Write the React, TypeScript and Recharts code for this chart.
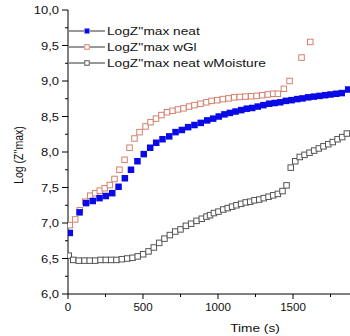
import React from 'react';
import { ScatterChart, Scatter, XAxis, YAxis, Legend } from 'recharts';

const FONT = '"Liberation Sans", Arial, Helvetica, sans-serif';
const SX = 1.18;

// Series: LogZ''max neat
const neatTime = [12, 77, 121, 165, 210, 252, 295, 337, 379, 420, 463, 505, 548, 588, 630, 675, 717, 759, 801, 843, 885, 928, 968, 1005, 1043, 1079, 1117, 1155, 1192, 1228, 1265, 1303, 1341, 1377, 1415, 1452, 1490, 1528, 1563, 1601, 1639, 1677, 1715, 1750, 1788, 1825, 1868];
const neatLog = [6.86, 7.15, 7.28, 7.31, 7.35, 7.38, 7.42, 7.51, 7.63, 7.75, 7.87, 7.97, 8.06, 8.13, 8.18, 8.22, 8.28, 8.31, 8.35, 8.38, 8.41, 8.445, 8.47, 8.5, 8.53, 8.55, 8.57, 8.59, 8.61, 8.62, 8.64, 8.66, 8.68, 8.69, 8.7, 8.72, 8.73, 8.745, 8.755, 8.77, 8.78, 8.79, 8.8, 8.81, 8.82, 8.83, 8.88];

// Series: LogZ''max wGl
const wglTime = [12, 48, 79, 115, 148, 181, 212, 245, 279, 310, 343, 377, 410, 443, 477, 517, 550, 587, 623, 660, 697, 733, 770, 807, 843, 883, 923, 957, 995, 1032, 1070, 1108, 1145, 1183, 1221, 1257, 1295, 1332, 1368, 1399, 1439, 1477, 1557, 1615];
const wglLog = [6.97, 7.05, 7.18, 7.3, 7.385, 7.42, 7.455, 7.49, 7.535, 7.62, 7.75, 7.89, 8.06, 8.19, 8.28, 8.36, 8.42, 8.47, 8.52, 8.56, 8.58, 8.6, 8.615, 8.64, 8.66, 8.68, 8.7, 8.72, 8.73, 8.745, 8.755, 8.77, 8.775, 8.78, 8.785, 8.79, 8.8, 8.81, 8.82, 8.82, 8.89, 9.0, 9.33, 9.55];

// Series: LogZ''max neat wMoisture
const moistTime = [5, 35, 72, 110, 145, 181, 217, 252, 288, 323, 359, 395, 430, 465, 501, 537, 572, 608, 643, 679, 715, 750, 786, 821, 857, 892, 923, 947, 973, 1003, 1035, 1065, 1094, 1123, 1154, 1185, 1215, 1243, 1275, 1305, 1337, 1368, 1399, 1430, 1457, 1485, 1515, 1545, 1577, 1610, 1641, 1672, 1703, 1735, 1765, 1797, 1828, 1859];
const moistLog = [6.54, 6.48, 6.47, 6.47, 6.47, 6.47, 6.48, 6.48, 6.48, 6.48, 6.49, 6.5, 6.51, 6.53, 6.56, 6.6, 6.655, 6.72, 6.78, 6.83, 6.88, 6.91, 6.96, 6.99, 7.03, 7.06, 7.09, 7.11, 7.14, 7.16, 7.19, 7.21, 7.23, 7.25, 7.27, 7.29, 7.3, 7.32, 7.33, 7.35, 7.37, 7.39, 7.41, 7.45, 7.53, 7.78, 7.87, 7.93, 7.96, 7.99, 8.02, 8.05, 8.08, 8.11, 8.14, 8.18, 8.21, 8.26];

const seriesNames = ["LogZ''max neat", "LogZ''max wGl", "LogZ''max neat wMoisture"];
const xTicks = [0, 250, 500, 750, 1000, 1250, 1500, 1750];
const xMajor = [0, 500, 1000, 1500];
const yTicks = [6, 6.25, 6.5, 6.75, 7, 7.25, 7.5, 7.75, 8, 8.25, 8.5, 8.75, 9, 9.25, 9.5, 9.75, 10];
const yMajor = [6, 6.5, 7, 7.5, 8, 8.5, 9, 9.5, 10];

const BLUE = '#0a0ae6';
const SALMON = '#d4806c';
const GREY = '#555555';

const toPoints = (t: number[], v: number[]) => t.map((x, i) => ({ t: x, v: v[i] }));
const neatData = toPoints(neatTime, neatLog);
const wglData = toPoints(wglTime, wglLog);
const moistData = toPoints(moistTime, moistLog);

const makeSquare = (fill: string, stroke: string, size: number) => (props: any) => {
  const { cx, cy } = props;
  if (cx == null || cy == null) return <g />;
  return (
    <rect x={cx - size / 2} y={cy - size / 2} width={size} height={size} fill={fill}
      stroke={stroke} strokeWidth={stroke === 'none' ? 0 : 1} />
  );
};

const XTick = (props: any) => {
  const { x, y, payload } = props;
  const major = xMajor.includes(payload.value);
  return (
    <g>
      <line x1={x} x2={x} y1={y} y2={y + (major ? 5 : 3)} stroke="#000" strokeWidth={1} />
      {major && (
        <text transform={`translate(${x},${y + 17}) scale(1.05,1)`} textAnchor="middle"
          fontSize={11} fontFamily={FONT} fill="#111">{payload.value}</text>
      )}
    </g>
  );
};

const YTick = (props: any) => {
  const { x, y, payload } = props;
  const major = yMajor.includes(payload.value);
  return (
    <g>
      <line x1={x - (major ? 6 : 3)} x2={x} y1={y} y2={y} stroke="#000" strokeWidth={1} />
      {major && (
        <text transform={`translate(${x - 9},${y + 4}) scale(${SX},1)`} textAnchor="end"
          fontSize={11} fontFamily={FONT} fill="#111">{payload.value.toFixed(1).replace('.', ',')}</text>
      )}
    </g>
  );
};

const YTitle = (props: any) => {
  const { viewBox } = props;
  const cx = viewBox.x + 19;
  const cy = viewBox.y + viewBox.height / 2 + 3;
  return (
    <text transform={`translate(${cx},${cy}) scale(${SX},1) rotate(-90)`} textAnchor="middle"
      dy="0.35em" fontSize={10.5} fontFamily={FONT} fill="#111">{"Log (Z''max)"}</text>
  );
};

const XTitle = (props: any) => {
  const { viewBox } = props;
  const cx = viewBox.x + 187;
  const cy = viewBox.y + 38;
  return (
    <text transform={`translate(${cx},${cy}) scale(${SX},1)`} textAnchor="middle"
      fontSize={11.6} fontFamily={FONT} fill="#111">Time (s)</text>
  );
};

const legendMarkers = [
  { fill: BLUE, stroke: 'none', size: 5 },
  { fill: '#fff', stroke: SALMON, size: 4.5 },
  { fill: '#fff', stroke: GREY, size: 4.5 },
];

const renderLegend = () => (
  <div style={{ fontFamily: FONT, fontSize: 11.6, color: '#111', lineHeight: 1 }}>
    {seriesNames.map((name, i) => {
      const m = legendMarkers[i];
      return (
        <div key={name} style={{ height: 16.3, display: 'flex', alignItems: 'center', whiteSpace: 'nowrap' }}>
          <svg width={36} height={10} style={{ display: 'block' }}>
            <line x1={0} x2={15} y1={5} y2={5} stroke="#333" strokeWidth={1} />
            <line x1={21} x2={36} y1={5} y2={5} stroke="#333" strokeWidth={1} />
            <rect x={18 - m.size / 2} y={5 - m.size / 2} width={m.size} height={m.size}
              fill={m.fill} stroke={m.stroke} strokeWidth={m.stroke === 'none' ? 0 : 1} />
          </svg>
          <span style={{ display: 'inline-block', marginLeft: 2, transform: `scaleX(${SX})`, transformOrigin: 'left center' }}>{name}</span>
        </div>
      );
    })}
  </div>
);

export default function App() {
  return (
    <div style={{ position: 'absolute', left: 0, top: 0, width: 350, height: 336, background: '#fff' }}>
      <ScatterChart width={350} height={336} margin={{ top: 10, right: 0, bottom: 0, left: 0 }}>
        <XAxis type="number" dataKey="t" domain={[0, 1880]} ticks={xTicks} interval={0}
          height={42} tickSize={0} tickMargin={0} tickLine={false} tick={<XTick />}
          axisLine={{ stroke: '#000', strokeWidth: 1 }} allowDataOverflow label={<XTitle />} />
        <YAxis type="number" dataKey="v" domain={[6, 10]} ticks={yTicks} interval={0}
          width={68} tickSize={0} tickMargin={0} tickLine={false} tick={<YTick />}
          axisLine={{ stroke: '#000', strokeWidth: 1 }} allowDataOverflow label={<YTitle />} />
        <Legend content={renderLegend} layout="vertical" align="center" verticalAlign="middle"
          wrapperStyle={{ left: 69, top: 22.5, width: 'auto' }} />
        <Scatter name={seriesNames[2]} data={moistData} isAnimationActive={false}
          shape={makeSquare('#fff', GREY, 5.5)} />
        <Scatter name={seriesNames[1]} data={wglData} isAnimationActive={false}
          shape={makeSquare('#fff', SALMON, 5.5)} />
        <Scatter name={seriesNames[0]} data={neatData} isAnimationActive={false}
          shape={makeSquare(BLUE, 'none', 6.5)} />
      </ScatterChart>
    </div>
  );
}
